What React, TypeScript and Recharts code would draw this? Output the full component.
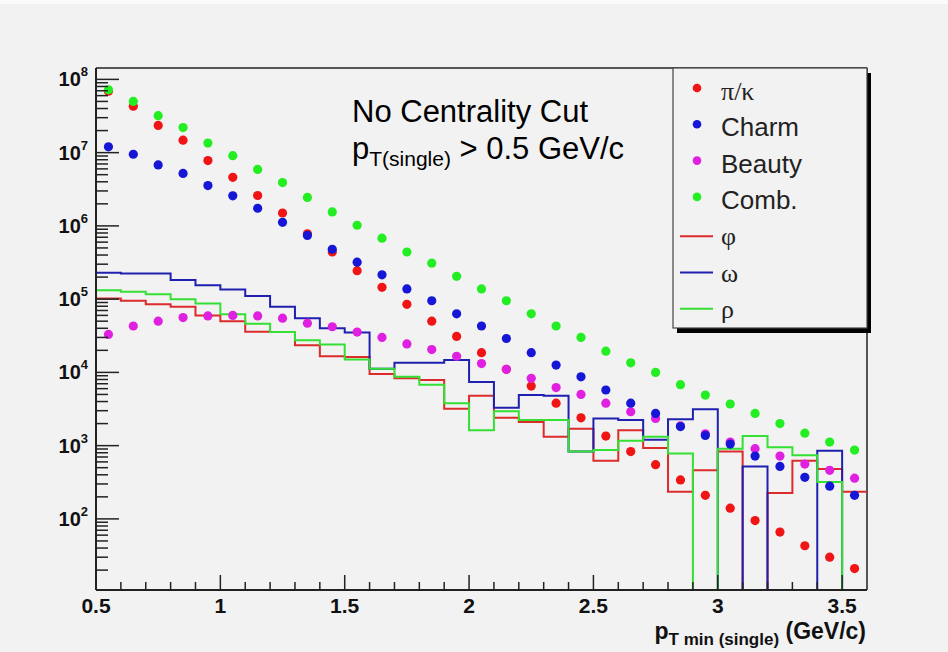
import React from 'react';
import { ComposedChart, Line, Scatter, XAxis, YAxis, ReferenceLine } from 'recharts';

// Bin centres (pT min single, GeV/c) for the dot series
const ptCenters = [0.55, 0.65, 0.75, 0.85, 0.95, 1.05, 1.15, 1.25, 1.35, 1.45, 1.55, 1.65, 1.75, 1.85, 1.95, 2.05, 2.15, 2.25, 2.35, 2.45, 2.55, 2.65, 2.75, 2.85, 2.95, 3.05, 3.15, 3.25, 3.35, 3.45, 3.55];
// Lower bin edges for the histograms, plus the last upper edge
const binLowEdges = [0.5, 0.6, 0.7, 0.8, 0.9, 1.0, 1.1, 1.2, 1.3, 1.4, 1.5, 1.6, 1.7, 1.8, 1.9, 2.0, 2.1, 2.2, 2.3, 2.4, 2.5, 2.6, 2.7, 2.8, 2.9, 3.0, 3.1, 3.2, 3.3, 3.4, 3.5];
const lastUpperEdge = 3.6;

// Dot series
const piK = [6.9e7, 4.3e7, 2.35e7, 1.48e7, 7.8e6, 4.6e6, 2.6e6, 1.5e6, 7.8e5, 4.4e5, 2.45e5, 1.45e5, 8.5e4, 5.0e4, 3.1e4, 1.86e4, 1.1e4, 6.5e3, 3.8e3, 2.4e3, 1.35e3, 830, 550, 340, 210, 140, 95, 66, 43, 30, 21];
const charm = [1.2e7, 9.5e6, 6.8e6, 5.2e6, 3.55e6, 2.57e6, 1.74e6, 1.12e6, 7.4e5, 4.8e5, 3.2e5, 2.15e5, 1.38e5, 9.5e4, 6.3e4, 4.3e4, 2.9e4, 1.86e4, 1.26e4, 8.7e3, 5.75e3, 3.8e3, 2.75e3, 1.82e3, 1.38e3, 1.05e3, 720, 520, 370, 280, 210];
const beauty = [3.3e4, 4.3e4, 5.0e4, 5.6e4, 5.9e4, 6.0e4, 5.9e4, 5.5e4, 4.7e4, 4.2e4, 3.55e4, 3.0e4, 2.45e4, 2.05e4, 1.66e4, 1.32e4, 1.1e4, 8.3e3, 6.2e3, 5.0e3, 3.8e3, 2.9e3, 2.35e3, 1.86e3, 1.45e3, 1.12e3, 910, 720, 560, 460, 360];
const comb = [7.2e7, 5.0e7, 3.2e7, 2.2e7, 1.35e7, 9.1e6, 5.9e6, 3.9e6, 2.45e6, 1.55e6, 1.02e6, 6.8e5, 4.4e5, 3.1e5, 2.05e5, 1.38e5, 9.5e4, 6.3e4, 4.3e4, 3.0e4, 1.95e4, 1.35e4, 1.0e4, 6.8e3, 4.9e3, 3.7e3, 2.75e3, 2.0e3, 1.48e3, 1.12e3, 870];

// Histogram series (0 = empty bin)
const phi = [1.02e5, 9.5e4, 8.5e4, 7.9e4, 6.0e4, 5.0e4, 3.6e4, 3.55e4, 2.35e4, 1.66e4, 1.62e4, 9.5e3, 8.3e3, 7.9e3, 3.2e3, 4.8e3, 2.4e3, 2.1e3, 1.32e3, 1.7e3, 620, 1.62e3, 930, 235, 460, 830, 0, 225, 620, 480, 235];
const omega = [2.3e5, 2.24e5, 2.24e5, 1.82e5, 1.55e5, 1.35e5, 1.1e5, 7.9e4, 5.5e4, 4.0e4, 3.5e4, 1.12e4, 1.35e4, 1.35e4, 1.48e4, 7.4e3, 3.3e3, 4.9e3, 4.8e3, 830, 2.35e3, 2.24e3, 1.2e3, 2.3e3, 3.15e3, 0, 520, 0, 0, 850, 0];
const rho = [1.32e5, 1.26e5, 1.17e5, 1.0e5, 8.7e4, 6.2e4, 4.6e4, 3.55e4, 2.75e4, 2.4e4, 1.5e4, 1.12e4, 8.7e3, 6.8e3, 3.8e3, 1.62e3, 2.95e3, 2.24e3, 2.24e3, 830, 870, 1.17e3, 1.32e3, 780, 0, 910, 1.35e3, 950, 740, 320, 0];

// Axis ticks
const xTicks = [0.5, 0.6, 0.7, 0.8, 0.9, 1.0, 1.1, 1.2, 1.3, 1.4, 1.5, 1.6, 1.7, 1.8, 1.9, 2.0, 2.1, 2.2, 2.3, 2.4, 2.5, 2.6, 2.7, 2.8, 2.9, 3.0, 3.1, 3.2, 3.3, 3.4, 3.5];
const xMajorLabels = ['0.5', '1', '1.5', '2', '2.5', '3', '3.5'];
const yDecades = [10, 100, 1e3, 1e4, 1e5, 1e6, 1e7, 1e8];
const yMinorMultipliers = [2, 3, 4, 5, 6, 7, 8, 9];
const xDomain = [0.5, 3.6];
const yDomain = [10.7, 1.43e8];

const EMPTY_FLOOR = 1; // empty bins fall below the axis and are clipped

const yTicks: number[] = [];
yDecades.forEach((d, i) => {
  if (i > 0) yTicks.push(d);
  if (i < yDecades.length - 1) yMinorMultipliers.forEach((m) => yTicks.push(d * m));
});

const dots = (vals: number[]) => ptCenters.map((x, i) => ({ x, y: vals[i] }));
const steps = (vals: number[]) =>
  binLowEdges
    .map((x, i) => ({ x, y: vals[i] > 0 ? vals[i] : EMPTY_FLOOR }))
    .concat([{ x: lastUpperEdge, y: vals[vals.length - 1] > 0 ? vals[vals.length - 1] : EMPTY_FLOOR }]);

const C = {
  red: '#f01414', blue: '#1616d6', magenta: '#e020e0', green: '#22ee22',
  redLine: '#dc2b2b', blueLine: '#2020b0', greenLine: '#33e033',
};

const SANS = '"Liberation Sans", Arial, Helvetica, sans-serif';
const SERIF = '"Liberation Serif", "DejaVu Serif", serif';

const XTick = (props: any) => {
  const { x, y, payload } = props;
  const v = payload.value as number;
  const major = Math.abs(v * 2 - Math.round(v * 2)) < 1e-6;
  const label = xMajorLabels.find((l) => Math.abs(parseFloat(l) - v) < 1e-6);
  return (
    <g>
      <line x1={x} y1={y} x2={x} y2={y - (major ? 15 : 8)} stroke="#222" strokeWidth={1.5} />
      {major && label && (
        <text x={x} y={y + 23} textAnchor="middle" fontFamily={SANS} fontWeight="bold" fontSize={21} fill="#111">
          {label}
        </text>
      )}
    </g>
  );
};

const YTick = (props: any) => {
  const { x, y, payload } = props;
  const v = payload.value as number;
  const e = Math.log10(v);
  const major = Math.abs(e - Math.round(e)) < 1e-6;
  return (
    <g>
      <line x1={x} y1={y} x2={x + (major ? 23 : 12)} y2={y} stroke="#222" strokeWidth={1.5} />
      {major && (
        <text x={x - 8} y={y + 7} textAnchor="end" fontFamily={SANS} fontWeight="bold" fontSize={20} fill="#111">
          <tspan>10</tspan>
          <tspan fontSize={13} dy={-10}>{Math.round(e)}</tspan>
        </text>
      )}
    </g>
  );
};

const dotShape = (color: string) => (p: any) => <circle cx={p.cx} cy={p.cy} r={4.6} fill={color} />;

const legendRows = [
  { label: 'π/κ', kind: 'dot', color: C.red, font: SERIF },
  { label: 'Charm', kind: 'dot', color: C.blue, font: SANS },
  { label: 'Beauty', kind: 'dot', color: C.magenta, font: SANS },
  { label: 'Comb.', kind: 'dot', color: C.green, font: SANS },
  { label: 'φ', kind: 'line', color: C.redLine, font: SERIF },
  { label: 'ω', kind: 'line', color: C.blueLine, font: SERIF },
  { label: 'ρ', kind: 'line', color: C.greenLine, font: SERIF },
];

export default function App() {
  return (
    <div style={{ position: 'absolute', left: 0, top: 0, width: 948, height: 652, background: '#f2f2f2', overflow: 'hidden' }}>
      <div style={{ position: 'absolute', left: 0, top: 0, width: 948, height: 4, background: '#fbfbfb' }} />
      <ComposedChart width={948} height={652} margin={{ top: 68, right: 81, bottom: 0, left: 0 }}>
        <XAxis
          dataKey="x"
          type="number"
          domain={xDomain}
          ticks={xTicks}
          interval={0}
          allowDataOverflow
          height={62}
          tickSize={0}
          tickMargin={0}
          tickLine={false}
          tick={XTick}
          axisLine={{ stroke: '#222', strokeWidth: 2 }}
        />
        <YAxis
          dataKey="y"
          type="number"
          scale="log"
          domain={yDomain}
          ticks={yTicks}
          interval={0}
          allowDataOverflow
          width={96}
          tickSize={0}
          tickMargin={0}
          tickLine={false}
          tick={YTick}
          axisLine={{ stroke: '#222', strokeWidth: 2 }}
        />
        <ReferenceLine y={yDomain[1]} stroke="#555" strokeWidth={2} ifOverflow="visible" />
        <ReferenceLine x={xDomain[1]} stroke="#555" strokeWidth={2} ifOverflow="visible" />
        <Line data={steps(phi)} dataKey="y" type="stepAfter" stroke={C.redLine} strokeWidth={2} dot={false} activeDot={false} isAnimationActive={false} />
        <Line data={steps(omega)} dataKey="y" type="stepAfter" stroke={C.blueLine} strokeWidth={2} dot={false} activeDot={false} isAnimationActive={false} />
        <Line data={steps(rho)} dataKey="y" type="stepAfter" stroke={C.greenLine} strokeWidth={2} dot={false} activeDot={false} isAnimationActive={false} />
        <Scatter data={dots(piK)} dataKey="y" fill={C.red} shape={dotShape(C.red)} isAnimationActive={false} />
        <Scatter data={dots(beauty)} dataKey="y" fill={C.magenta} shape={dotShape(C.magenta)} isAnimationActive={false} />
        <Scatter data={dots(charm)} dataKey="y" fill={C.blue} shape={dotShape(C.blue)} isAnimationActive={false} />
        <Scatter data={dots(comb)} dataKey="y" fill={C.green} shape={dotShape(C.green)} isAnimationActive={false} />
      </ComposedChart>
      <svg width={948} height={652} style={{ position: 'absolute', left: 0, top: 0, pointerEvents: 'none' }}>
        {/* annotation */}
        <text x={352} y={122} fontFamily={SANS} fontSize={31} fill="#000">No Centrality Cut</text>
        <text x={352} y={159} fontFamily={SANS} fontSize={31} fill="#000">
          <tspan>p</tspan>
          <tspan fontSize={21} dy={7}>T(single)</tspan>
          <tspan dy={-7}> &gt; 0.5 GeV/c</tspan>
        </text>
        {/* legend */}
        <rect x={677} y={73} width={194} height={260} fill="#000" />
        <rect x={673} y={68} width={194} height={260} fill="#f2f2f2" stroke="#444" strokeWidth={1.2} />
        {legendRows.map((r, i) => {
          const cy = 91 + i * 36.3;
          return (
            <g key={r.label}>
              {r.kind === 'dot' ? (
                <circle cx={697} cy={cy - 3} r={4.3} fill={r.color} />
              ) : (
                <line x1={680} x2={713} y1={cy} y2={cy} stroke={r.color} strokeWidth={2} />
              )}
              <text x={721} y={cy + 9} fontFamily={r.font} fontSize={26} fill="#222">{r.label}</text>
            </g>
          );
        })}
        {/* x-axis title */}
        <text x={866} y={639} textAnchor="end" fontFamily={SANS} fontWeight="bold" fill="#111">
          <tspan fontSize={23}>p</tspan>
          <tspan fontSize={17} dy={6}>T min (single)</tspan>
          <tspan fontSize={23} dy={-6}> (GeV/c)</tspan>
        </text>
      </svg>
    </div>
  );
}
